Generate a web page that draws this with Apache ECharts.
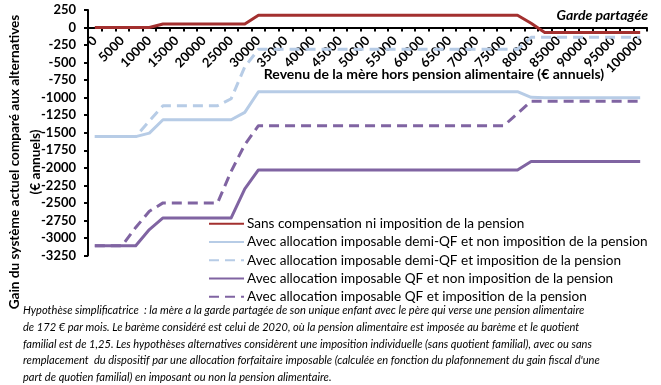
<!DOCTYPE html>
<html>
<head>
<meta charset="utf-8">
<script src="https://cdn.jsdelivr.net/npm/echarts@6/dist/echarts.min.js"></script>
<style>
  html, body { margin: 0; padding: 0; background: #fff; }
  #chart { width: 661px; height: 385px; }
</style>
</head>
<body>
<div id="chart"></div>
<script>
// Revenu de la mère (catégories, pas de 2500 €)
const categories = [0, 2500, 5000, 7500, 10000, 12500, 15000, 17500, 20000, 22500,
  25000, 27500, 30000, 32500, 35000, 37500, 40000, 42500, 45000, 47500,
  50000, 52500, 55000, 57500, 60000, 62500, 65000, 67500, 70000, 72500,
  75000, 77500, 80000, 82500, 85000, 87500, 90000, 92500, 95000, 97500, 100000];

const seriesNames = [
  'Sans compensation ni imposition de la pension',
  'Avec allocation imposable demi-QF et non imposition de la pension',
  'Avec allocation imposable demi-QF et imposition de la pension',
  'Avec allocation imposable QF et non imposition de la pension',
  'Avec allocation imposable QF et imposition de la pension'
];

const sansCompensation = [0, 0, 0, 0, 0, 50, 50, 50, 50, 50,
  50, 50, 175, 175, 175, 175, 175, 175, 175, 175,
  175, 175, 175, 175, 175, 175, 175, 175, 175, 175,
  175, 175, 60, -70, -70, -70, -70, -70, -70, -70, -70];

const demiQFNonImposition = [-1555, -1555, -1555, -1555, -1505, -1315, -1315, -1315, -1315, -1315,
  -1315, -1210, -915, -915, -915, -915, -915, -915, -915, -915,
  -915, -915, -915, -915, -915, -915, -915, -915, -915, -915,
  -915, -915, -995, -1000, -1000, -1000, -1000, -1000, -1000, -1000, -1000];

const demiQFImposition = [-1555, -1555, -1555, -1555, -1330, -1115, -1115, -1115, -1115, -1115,
  -1015, -560, -310, -310, -310, -310, -310, -310, -310, -310,
  -310, -310, -310, -310, -310, -310, -310, -310, -310, -310,
  -310, -310, -140, -140, -140, -140, -140, -140, -140, -140, -140];

const qfNonImposition = [-3110, -3110, -3110, -3110, -2880, -2715, -2715, -2715, -2715, -2715,
  -2715, -2300, -2030, -2030, -2030, -2030, -2030, -2030, -2030, -2030,
  -2030, -2030, -2030, -2030, -2030, -2030, -2030, -2030, -2030, -2030,
  -2030, -2030, -1910, -1910, -1910, -1910, -1910, -1910, -1910, -1910, -1910];

const qfImposition = [-3110, -3110, -3110, -2850, -2620, -2500, -2500, -2500, -2500, -2500,
  -2050, -1670, -1400, -1400, -1400, -1400, -1400, -1400, -1400, -1400,
  -1400, -1400, -1400, -1400, -1400, -1400, -1400, -1400, -1400, -1400,
  -1400, -1225, -1050, -1050, -1050, -1050, -1050, -1050, -1050, -1050, -1050];

const yMin = -3250, yMax = 250, yStep = 250;

const xAxisTitle = 'Revenu de la mère hors pension alimentaire (€ annuels)';
const yAxisTitle = 'Gain du système actuel comparé aux alternatives\n(€ annuels)';
const cornerTitle = 'Garde partagée';
const footnote = [
  'Hypothèse simplificatrice  : la mère a la garde partagée de son unique enfant avec le père qui verse une pension alimentaire',
  'de 172 € par mois. Le barème considéré est celui de 2020, où la pension alimentaire est imposée au barème et le quotient',
  'familial est de 1,25. Les hypothèses alternatives considèrent une imposition individuelle (sans quotient familial), avec ou sans',
  'remplacement  du dispositif par une allocation forfaitaire imposable (calculée en fonction du plafonnement du gain fiscal d\'une',
  'part de quotien familial) en imposant ou non la pension alimentaire.'
];

const FONT = 'Lato, "Liberation Sans", sans-serif';
const RED = '#A3302F', BLUE = '#B7CCE6', PURPLE = '#8064A2';

// plot area geometry
const GRID_LEFT = 88, GRID_RIGHT = 14, GRID_TOP = 10, GRID_BOTTOM = 129.5;
const plotHeight = 385 - GRID_TOP - GRID_BOTTOM;
const zeroBandHeight = plotHeight * (yMax - 0) / (yMax - yMin); // band from top to the zero line

function lineSeries(name, data, color, dashed) {
  return {
    name: name, type: 'line', data: data, symbol: 'none', showSymbol: false,
    xAxisIndex: 0, yAxisIndex: 0,
    lineStyle: { color: color, width: 3, type: dashed ? [10, 6] : 'solid', cap: 'butt', join: 'round' },
    itemStyle: { color: color },
    emphasis: { disabled: true }, animation: false
  };
}

const chart = echarts.init(document.getElementById('chart'), null, { renderer: 'canvas' });
chart.setOption({
  animation: false,
  backgroundColor: '#fff',
  grid: [
    { left: GRID_LEFT, right: GRID_RIGHT, top: GRID_TOP, bottom: GRID_BOTTOM, containLabel: false },
    { left: GRID_LEFT, right: GRID_RIGHT, top: GRID_TOP, height: zeroBandHeight, containLabel: false }
  ],
  xAxis: [
    { type: 'category', gridIndex: 0, data: categories.map(String), boundaryGap: true, show: false },
    {
      type: 'category', gridIndex: 1,
      data: categories.map(String),
      boundaryGap: true, position: 'bottom',
      axisLine: { show: true, onZero: false, lineStyle: { color: '#000', width: 2 } },
      axisTick: { show: true, interval: 0, length: 4, lineStyle: { color: '#000', width: 2 } },
      axisLabel: { interval: 1, rotate: 45, margin: 11, color: '#000', fontFamily: FONT, fontSize: 13, fontWeight: 'bold' },
      splitLine: { show: false }
    }
  ],
  yAxis: [
    {
      type: 'value', gridIndex: 0, min: yMin, max: yMax, interval: yStep,
      axisLine: { show: true, lineStyle: { color: '#000', width: 2 } },
      axisTick: { show: true, length: 4, lineStyle: { color: '#000', width: 2 } },
      axisLabel: { margin: 12, color: '#000', fontFamily: FONT, fontSize: 13, fontWeight: 'bold',
        formatter: function (v) { return String(v); } },
      splitLine: { show: false }
    },
    { type: 'value', gridIndex: 1, min: 0, max: yMax, show: false }
  ],
  legend: {
    orient: 'vertical', left: 208, top: 214.5, padding: 0,
    itemWidth: 35, itemHeight: 10, itemGap: 0,
    itemStyle: { color: 'rgba(0,0,0,0)', borderWidth: 0, opacity: 0 },
    textStyle: { color: '#000', fontFamily: FONT, fontSize: 13.6, lineHeight: 18.3, padding: [0, 0, 0, -2] },
    data: seriesNames
  },
  series: [
    lineSeries(seriesNames[0], sansCompensation, RED, false),
    lineSeries(seriesNames[1], demiQFNonImposition, BLUE, false),
    lineSeries(seriesNames[2], demiQFImposition, BLUE, true),
    lineSeries(seriesNames[3], qfNonImposition, PURPLE, false),
    lineSeries(seriesNames[4], qfImposition, PURPLE, true)
  ],
  graphic: [
    { type: 'text', x: 25.5, y: 162, rotation: Math.PI / 2,
      style: { text: yAxisTitle, font: 'bold 13.6px ' + FONT, fill: '#000',
        align: 'center', verticalAlign: 'middle', textAlign: 'center', textVerticalAlign: 'middle', lineHeight: 21 } },
    { type: 'text', x: 434, y: 74,
      style: { text: xAxisTitle, font: 'bold 14px ' + FONT, fill: '#000',
        align: 'center', verticalAlign: 'middle', textAlign: 'center', textVerticalAlign: 'middle' } },
    { type: 'text', x: 648, y: 15,
      style: { text: cornerTitle, font: 'italic bold 14px ' + FONT, fill: '#000',
        align: 'right', verticalAlign: 'middle', textAlign: 'right', textVerticalAlign: 'middle' } },
    { type: 'text', x: 23, y: 302,
      style: { text: footnote.join('\n'), font: 'italic 11.1px ' + FONT, fill: '#000',
        align: 'left', verticalAlign: 'top', textAlign: 'left', textVerticalAlign: 'top', lineHeight: 16.8 } }
  ]
});
</script>
</body>
</html>
